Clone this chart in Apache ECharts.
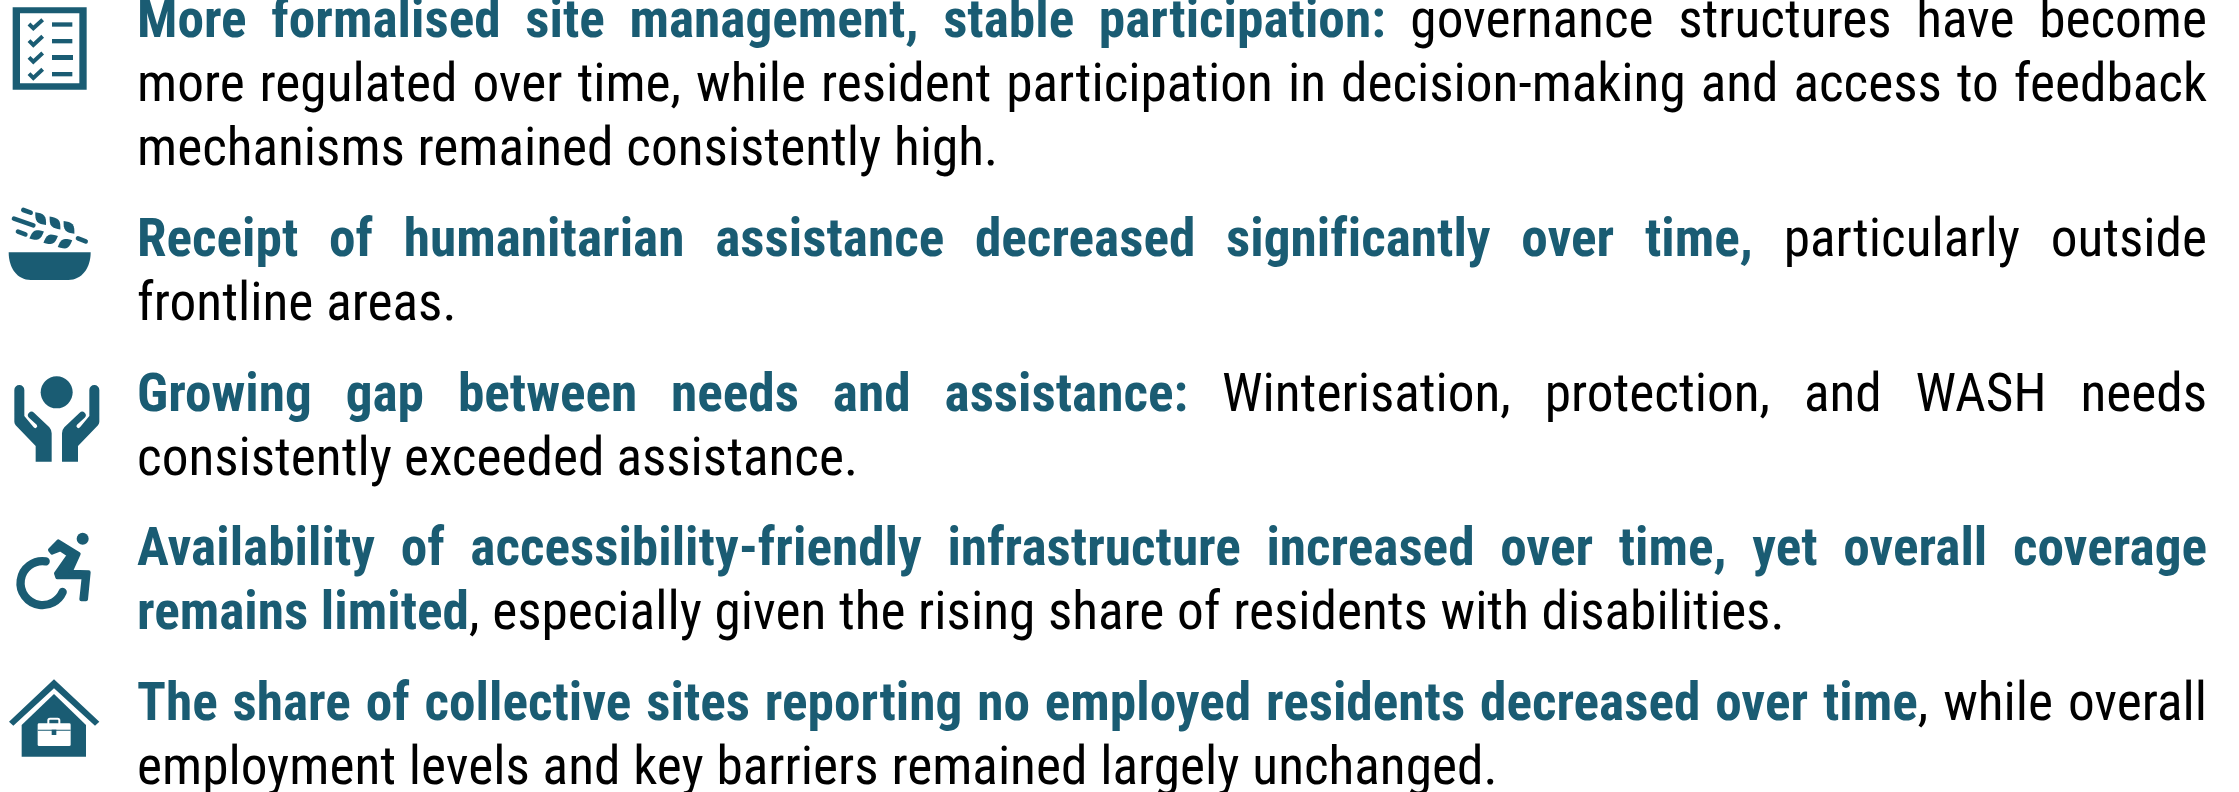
<!DOCTYPE html>
<html><head><meta charset="utf-8"><style>html,body{margin:0;padding:0;background:#fff}#c{width:2239px;height:792px}</style>
<script src="https://cdn.jsdelivr.net/npm/echarts@6/dist/echarts.min.js"></script></head><body><div id="c"></div>
<script>
const line1=["More formalised site management, stable participation:"," governance structures have become"];
const line2=["","more regulated over time, while resident participation in decision-making and access to feedback"];
const line3=["","mechanisms remained consistently high."];
const line4=["Receipt of humanitarian assistance decreased significantly over time,"," particularly outside"];
const line5=["","frontline areas."];
const line6=["Growing gap between needs and assistance:"," Winterisation, protection, and WASH needs"];
const line7=["","consistently exceeded assistance."];
const line8=["Availability of accessibility-friendly infrastructure increased over time, yet overall coverage",""];
const line9=["remains limited",", especially given the rising share of residents with disabilities."];
const line10=["The share of collective sites reporting no employed residents decreased over time",", while overall"];
const line11=["","employment levels and key barriers remained largely unchanged."];
const lines=[line1,line2,line3,line4,line5,line6,line7,line8,line9,line10,line11];
const baselines=[37,101,165,256,320,411,475,565,629,720,784];
const rights=[2207,2207,998,2207,456.5,2207,858,2207,1784.5,2207,1497.5];
const TEAL='#1a5c73',L=137,FS=53.3,FF='"Roboto Condensed"',SPACING='0.01px';
const ctx=document.createElement('canvas').getContext('2d');
ctx.letterSpacing=SPACING;
const m=(t,b)=>{ctx.font=(b?'700 ':'400 ')+FS+'px '+FF;return ctx.measureText(t).width;};
const els=[];
lines.forEach((ln,i)=>{
  const toks=[];
  ln.forEach((run,ri)=>{
    if(!run)return;
    const lead=/^\s/.test(run);
    run.trim().split(/\s+/).forEach((w,k)=>toks.push({w,b:ri===0,gap:toks.length>0&&(k>0||lead)}));
  });
  toks.forEach(t=>t.wd=m(t.w,t.b));
  const gaps=toks.filter(t=>t.gap).length, tot=toks.reduce((a,t)=>a+t.wd,0);
  const g=(rights[i]-L-tot)/gaps;
  let x=L;
  toks.forEach(t=>{
    if(t.gap)x+=g;
    els.push({type:'text',x,y:baselines[i]-13.5,silent:true,style:{text:t.w,fontFamily:FF,fontSize:FS,fontWeight:t.b?700:400,fill:t.b?TEAL:'#000',align:'left',verticalAlign:'middle'}});
    x+=t.wd;
  });
});
// icons, drawn in 3x crop coordinates
let shapeCount=0;
const icon=(oy,kids)=>({type:'group',x:0,y:oy,scaleX:1/3,scaleY:1/3,silent:true,children:kids});
const path=(d,o)=>{const name='iconPath'+(shapeCount++);
  echarts.graphic.registerShape(name,echarts.graphic.extendPath(d,{}));
  return {type:name,style:Object.assign({fill:TEAL},o)};};
const lineS=(d,w,c)=>path(d,{fill:null,stroke:c||TEAL,lineWidth:w,lineCap:'round',lineJoin:'round'});
const rect=(x,y,w,h,f,r)=>({type:'rect',shape:{x,y,width:w,height:h,r:r||0},style:{fill:f||TEAL}});
const leaf=(cx,cy,len,wid,deg)=>{const a=deg*Math.PI/180,c=Math.cos(a),s=Math.sin(a),pts=[];
  for(let k=0;k<=16;k++){const t=k/8,sgn=k<=8?1:-1,tt=k<=8?t:t-1,u=k<=8?(tt-0.5)*len:(0.5-tt)*len,v=sgn*Math.sin(Math.PI*tt)*wid/2;
    pts.push([cx+u*c-v*s,cy+u*s+v*c]);}
  return {type:'polygon',shape:{points:pts},style:{fill:TEAL}};};
const checks=[0,50,100,149].map(d=>path(`M87 ${72+d}L100 ${85+d}L128 ${59+d}`,{fill:null,stroke:TEAL,lineWidth:12,lineJoin:'miter'}));
els.push(icon(0,[rect(38,22,222,247),rect(60,40,178,210,'#fff'),rect(156,67,61,13),rect(156,117,61,13),rect(156,165,63,15),rect(156,216,61,13)].concat(checks)));
els.push(icon(200,[
  path('M26 157L272 157C272 205 245 240 205 240L92 240C52 240 26 205 26 157Z'),
  lineS('M70 30L92 38',14),lineS('M42 56L100 76',14),lineS('M54 95L76 103',14),lineS('M234 115L257 124',14),
  leaf(122,56,50,28,50),leaf(165,69,50,28,50),leaf(207,82,50,28,50),
  leaf(110,105,48,28,-25),leaf(152,118,48,28,-25),leaf(195,131,48,28,-25)
]));
const hand='M43 60A15 15 0 0 1 73 60L73 138L101 172A6 6 0 0 0 110 164L87 143A9 9 0 0 1 102 128L148 172Q155 180 155 190L155 275L107 275L107 228L47 166Q43 160 43 155Z';
els.push(icon(370,[{type:'circle',shape:{cx:170,cy:67,r:48},style:{fill:TEAL}},path(hand),
  {type:'group',x:341,scaleX:-1,children:[path(hand)]}]));
els.push(icon(520,[{type:'circle',shape:{cx:248,cy:56,r:18},style:{fill:TEAL}},
  lineS('M137 124A66 66 0 1 0 188 216',25),
  path('M150 90L175 64L236 102L212 155L266 157L258 238L244 238L251 172L172 172L168 160L207 105L181 88L156 98Z',{stroke:TEAL,lineWidth:12,lineJoin:'round'})]));
els.push(icon(670,[
  path('M162 28L298 155L285 167L162 55L40 167L27 155Z'),
  path('M162 72L258 165L258 260L65 260L65 165Z'),
  {type:'rect',shape:{x:145,y:146,width:33,height:22,r:5},style:{fill:null,stroke:'#fff',lineWidth:6}},
  rect(113,160,99,68,'#fff',4),rect(113,179,99,3),rect(155,179,14,16)
]));
const chart=echarts.init(document.getElementById('c'),null,{renderer:'canvas'});
chart.setOption({animation:false,backgroundColor:'#fff',graphic:{elements:[{type:'rect',shape:{x:0,y:0,width:1,height:1},style:{fill:'#fff'}}]}});
chart.getZr().flush&&chart.getZr().flush();
document.querySelectorAll('#c canvas').forEach(cv=>{cv.getContext('2d').letterSpacing=SPACING;});
chart.setOption({graphic:{elements:els}},{replaceMerge:['graphic']});
</script></body></html>
